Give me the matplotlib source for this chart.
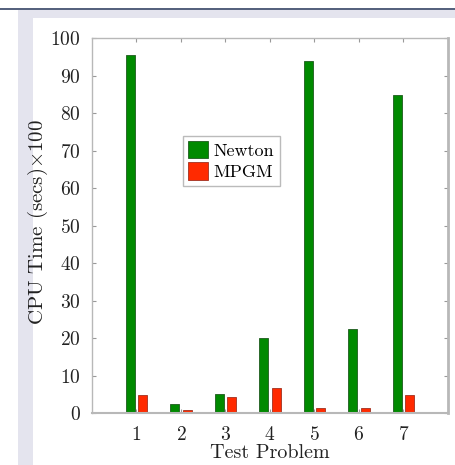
import matplotlib
matplotlib.use("Agg")
import matplotlib.pyplot as plt
from matplotlib.patches import Rectangle
import numpy as np

problems = [1, 2, 3, 4, 5, 6, 7]
newton = [95.5, 2.4, 5.1, 20.0, 93.9, 22.4, 84.8]
mpgm = [4.8, 0.8, 4.3, 6.7, 1.3, 1.3, 4.9]

plt.rcParams["font.family"] = "cmr10"
plt.rcParams["mathtext.fontset"] = "cm"
plt.rcParams["axes.formatter.use_mathtext"] = True

W, H = 456, 465
fig = plt.figure(figsize=(W / 100, H / 100), dpi=100)

# page-like surroundings of the screenshot
fig.add_artist(Rectangle((18 / W, 0), 1, (H - 9) / H, transform=fig.transFigure,
                         facecolor="#e4e4ee", edgecolor="none", zorder=-3))
fig.add_artist(Rectangle((0, (H - 10) / H), 1, 2 / H, transform=fig.transFigure,
                         facecolor="#56627e", edgecolor="none", zorder=-2))
fig.add_artist(Rectangle((33 / W, 0), 1, (H - 18) / H, transform=fig.transFigure,
                         facecolor="white", edgecolor="none", zorder=-1))

ax = fig.add_axes([92 / W, 1 - 413 / H, 356 / W, 375 / H])
x = np.array(problems)
w = 0.21
ax.bar(x - 0.14, newton, w, color="#008a00", edgecolor="#1d5a1d", linewidth=0.6, label="Newton")
ax.bar(x + 0.14, mpgm, w, color="#ff2a00", edgecolor="#a03020", linewidth=0.6, label="MPGM")

ax.set_xlim(0, 8)
ax.set_ylim(0, 100)
ax.set_xticks(problems)
ax.set_yticks(range(0, 101, 10))
ax.tick_params(direction="in", top=True, right=True, length=3, color="#999999",
               labelsize=14, colors="#222222")
ax.tick_params(axis="y", pad=8)
ax.tick_params(axis="x", pad=9)
for s in ax.spines.values():
    s.set_color("#b8b8b8")
    s.set_linewidth(1.0)
ax.spines["right"].set_linewidth(2.0)
ax.spines["bottom"].set_linewidth(1.5)

ax.set_xlabel("Test Problem", fontsize=14.5, color="#222222")
ax.set_ylabel(r"CPU Time (secs)$\times$100", fontsize=15, color="#222222")
ax.xaxis.set_label_coords(0.5, -0.084)
ax.yaxis.set_label_coords(-0.118, 0.51)

ax.legend(loc="upper left", bbox_to_anchor=(0.255, 0.74), fontsize=13, frameon=True,
          fancybox=False, edgecolor="#aaaaaa", handlelength=1.1, handleheight=1.1,
          handletextpad=0.3, borderpad=0.3, labelspacing=0.2, borderaxespad=0)

fig.savefig("out.png", dpi=100)
